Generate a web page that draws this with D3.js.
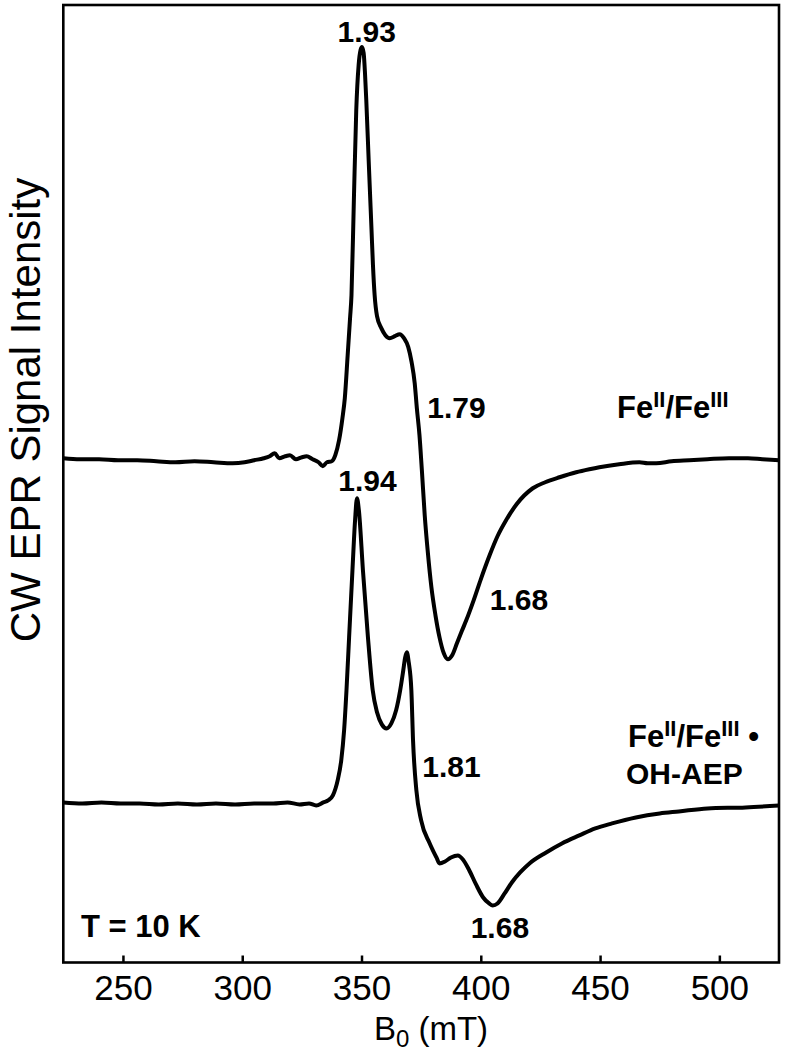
<!DOCTYPE html>
<html>
<head>
<meta charset="utf-8">
<script src="https://cdn.jsdelivr.net/npm/d3@7"></script>
<style>
  html, body { margin: 0; padding: 0; background: #fff; }
  svg { display: block; font-family: "Liberation Sans", Arial, sans-serif; }
</style>
</head>
<body>
<svg id="chart" width="786" height="1060"></svg>
<script>
// Magnetic field (mT) and signal (arbitrary units) for each trace
const fieldTop = [225,232,240,248,256,264,272,280,288,296,301,305,309,311.5,313.6,315.5,318,320,322.5,325,327,329.5,332,333.8,335.5,337.5,339,340.6,342,343,344.2,345.2,345.8,346.8,347.8,348.8,349.6,350.2,350.9,351.5,352,353,354.2,354.8,355.5,356.5,358.3,360,361.8,364,366,367.8,369.6,371,372.3,373.2,374.3,375.3,376.5,377.8,379.3,381,382.7,384.5,386.2,388,390,392,393.9,397,400,403.7,407,410.6,415,421.8,427,433,440,445.5,449.7,458,466.5,470,473.5,480,487.4,495,504,512,518,525];
const signalTop = [50.4,50.3,50.3,50.2,50.2,50.1,50.0,50.1,50.0,49.9,50.0,50.2,50.4,50.6,50.9,50.4,50.6,50.7,50.3,50.5,50.6,50.3,50.0,49.6,50.0,50.1,50.7,52.2,54.4,56.4,60.7,64.4,66.7,76.2,85.2,89.7,91.2,91.5,90.9,88.7,86.2,80.2,73.2,69.7,66.7,64.6,63.4,62.7,62.4,62.6,62.8,62.4,61.5,60.0,57.9,55.4,52.7,49.2,44.7,41.0,37.5,34.7,32.5,30.9,30.3,30.7,31.9,33.1,34.2,36.2,38.3,40.7,42.6,44.2,45.8,47.4,48.0,48.5,49.0,49.3,49.5,49.8,50.0,49.9,49.9,50.1,50.2,50.3,50.4,50.4,50.3,50.2];

const fieldBottom = [225,233,241,249,257,265,273,281,289,297,305,313,319,324,328,331,334,336,338,340,341.5,342.7,343.7,344.8,346.2,347.3,348.1,348.9,350.6,352.7,354.7,356.5,358.5,360.5,362.5,364.5,366.2,367.5,368.3,369,369.8,370.9,371.6,373,375,378.6,381.4,382.7,385,387.5,390.4,392.5,395,398,401,403.5,405,407,410,413,416.5,420.4,427.4,434,441.3,448,455,465,475,483,495,511,525];
const signalBottom = [16.0,15.9,16.0,15.9,15.9,15.8,15.9,15.8,15.9,15.8,15.9,15.9,16.0,15.8,15.9,15.7,16.0,16.2,16.7,18.2,20.2,23.2,27.2,32.5,39.2,44.2,46.4,45.2,39.2,32.5,27.2,25.0,23.8,23.4,23.9,25.2,27.2,29.2,30.5,31.0,30.0,27.2,22.2,17.2,14.2,11.9,10.5,9.9,10.1,10.5,10.7,10.3,9.3,7.8,6.5,5.9,5.7,5.9,6.9,8.0,9.0,9.9,11.0,11.9,12.7,13.4,13.9,14.5,14.9,15.1,15.4,15.5,15.7];

const xTicks = [250, 300, 350, 400, 450, 500];
const xDomain = [225, 525];
const yDomain = [0, 95.7];

// g-value annotations: [label, field (mT), signal]
const gLabels = [
  ["1.93", 352.2, 92.0],
  ["1.79", 389.8, 54.4],
  ["1.68", 416.0, 35.2],
  ["1.94", 352.5, 47.1],
  ["1.81", 387.7, 18.5],
  ["1.68", 408.0, 2.4]
];

const svg = d3.select("#chart");
const L = 63.3, R = 779, T = 5, B = 962.5;

const x = d3.scaleLinear().domain(xDomain).range([L, R]);
const y = d3.scaleLinear().domain(yDomain).range([B, T]);

const font = '"Liberation Sans", Arial, sans-serif';

// traces
const line = d3.line().x(d => x(d[0])).y(d => y(d[1])).curve(d3.curveMonotoneX);
svg.append("clipPath").attr("id", "clip")
  .append("rect").attr("x", L).attr("y", T).attr("width", R - L).attr("height", B - T);

[[fieldTop, signalTop], [fieldBottom, signalBottom]].forEach(([f, s]) => {
  svg.append("path")
    .datum(f.map((v, i) => [v, s[i]]))
    .attr("d", line)
    .attr("fill", "none")
    .attr("stroke", "#000")
    .attr("stroke-width", 4)
    .attr("stroke-linejoin", "round")
    .attr("clip-path", "url(#clip)");
});

// x axis with inward ticks
const xAxis = d3.axisBottom(x).tickValues(xTicks).tickSizeInner(-7).tickSizeOuter(0).tickPadding(13);
const gx = svg.append("g").attr("transform", `translate(0,${B})`).call(xAxis);
gx.select(".domain").remove();
gx.selectAll(".tick line").attr("stroke", "#000").attr("stroke-width", 2.5);
gx.selectAll(".tick text").attr("font-size", 35).attr("font-family", font).attr("fill", "#000");

// frame
svg.append("rect")
  .attr("x", L).attr("y", T).attr("width", R - L).attr("height", B - T)
  .attr("fill", "none").attr("stroke", "#000").attr("stroke-width", 2.6);

// x title
const xt = svg.append("text")
  .attr("x", 431).attr("y", 1040)
  .attr("text-anchor", "middle")
  .attr("font-size", 33).attr("font-family", font);
xt.append("tspan").text("B");
xt.append("tspan").attr("font-size", 24).attr("dy", 7).text("0");
xt.append("tspan").attr("dy", -7).text(" (mT)");

// y title
svg.append("text")
  .attr("transform", "translate(40,410) rotate(-90)")
  .attr("text-anchor", "middle")
  .attr("font-size", 42).attr("font-family", font)
  .text("CW EPR Signal Intensity");

// g labels
svg.selectAll("text.g")
  .data(gLabels)
  .enter().append("text")
  .attr("class", "g")
  .attr("x", d => x(d[1]))
  .attr("y", d => y(d[2]))
  .attr("text-anchor", "middle")
  .attr("font-size", 30).attr("font-weight", "bold").attr("font-family", font)
  .text(d => d[0]);

// species labels
function feLabel(xPos, yPos, withDot) {
  const t = svg.append("text").attr("x", xPos).attr("y", yPos)
    .attr("font-size", 31).attr("font-weight", "bold").attr("font-family", font);
  t.append("tspan").text("Fe");
  t.append("tspan").attr("font-size", 22).attr("dy", -11).text("II");
  t.append("tspan").attr("dy", 11).text("/Fe");
  t.append("tspan").attr("font-size", 22).attr("dy", -11).text("III");
  if (withDot) t.append("tspan").attr("dy", 11).text(" \u2022");
  return t;
}
feLabel(617, 418, false);
feLabel(628, 747, true);
svg.append("text").attr("x", 626).attr("y", 784)
  .attr("font-size", 30).attr("font-weight", "bold").attr("font-family", font)
  .text("OH-AEP");

// temperature
svg.append("text").attr("x", 81).attr("y", 937)
  .attr("font-size", 31).attr("font-weight", "bold").attr("font-family", font)
  .text("T = 10 K");
</script>
</body>
</html>
